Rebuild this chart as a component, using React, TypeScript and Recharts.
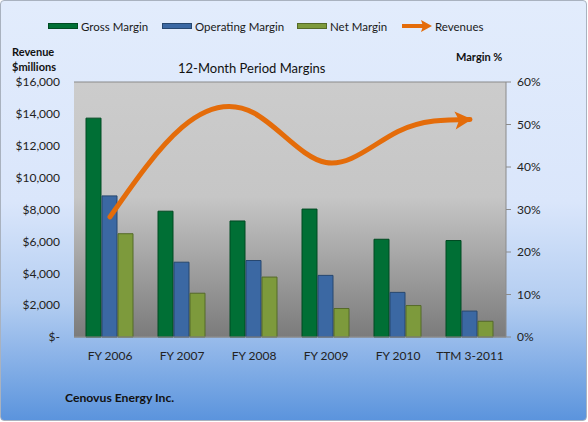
import React from "react";
import { ComposedChart, Bar, Line, XAxis, YAxis, CartesianGrid } from "recharts";

const periods = ["FY 2006", "FY 2007", "FY 2008", "FY 2009", "FY 2010", "TTM 3-2011"];
const grossMargin = [0.515, 0.296, 0.273, 0.301, 0.23, 0.227];
const operatingMargin = [0.332, 0.176, 0.18, 0.145, 0.105, 0.061];
const netMargin = [0.243, 0.103, 0.141, 0.067, 0.074, 0.037];
const revenues = [7540, 13150, 14050, 10950, 12900, 13650];

const revenueTicks = [0, 2000, 4000, 6000, 8000, 10000, 12000, 14000, 16000];
const marginTicks = [0, 0.1, 0.2, 0.3, 0.4, 0.5, 0.6];

const data = periods.map((p, i) => ({
  period: p,
  gross: grossMargin[i],
  operating: operatingMargin[i],
  net: netMargin[i],
  revenue: revenues[i],
}));

const FONT = "Lato, 'Open Sans', sans-serif";
const ORANGE = "#e46c0a";

const fmtRevenue = (v: number) => (v === 0 ? "$-" : "$" + v.toLocaleString("en-US"));
const fmtPct = (v: number) => Math.round(v * 100) + "%";

const legendItems = [
  { label: "Gross Margin", color: "#006f35", stroke: "#004a22", x: 47 },
  { label: "Operating Margin", color: "#3b68a3", stroke: "#27476f", x: 161 },
  { label: "Net Margin", color: "#7d9a3c", stroke: "#556a28", x: 296 },
];

function LegendBox() {
  return (
    <div style={{ position: "absolute", left: 0, top: 17, fontFamily: FONT, fontSize: 11.5, color: "#1a1a1a" }}>
      {legendItems.map((it) => (
        <div key={it.label} style={{ position: "absolute", left: it.x, top: 0, display: "flex", alignItems: "center", whiteSpace: "nowrap", height: 16 }}>
          <div style={{ width: 28, height: 4, background: it.color, border: `1px solid ${it.stroke}`, marginRight: 3 }} />
          <span>{it.label}</span>
        </div>
      ))}
      <div style={{ position: "absolute", left: 401, top: 0, display: "flex", alignItems: "center", whiteSpace: "nowrap", height: 16 }}>
        <svg width={31} height={12} style={{ marginRight: 2 }}>
          <line x1={0} y1={6} x2={22} y2={6} stroke={ORANGE} strokeWidth={4} />
          <polygon points="30,6 19,0 21,6 19,12" fill={ORANGE} />
        </svg>
        <span>Revenues</span>
      </div>
    </div>
  );
}

const ArrowDot = (props: any) => {
  const { cx, cy, index } = props;
  if (index !== periods.length - 1) return <g key={index} />;
  return (
    <g key={index} transform={`rotate(-4 ${cx} ${cy})`}>
      <polygon points={`${cx + 2},${cy} ${cx - 15},${cy - 9} ${cx - 11},${cy} ${cx - 15},${cy + 9}`} fill={ORANGE} />
    </g>
  );
};

export default function App() {
  return (
    <div
      style={{
        position: "absolute",
        left: 0,
        top: 0,
        width: 587,
        height: 421,
        boxSizing: "border-box",
        border: "1px solid #a9b2bf",
        borderRadius: 4,
        background: "linear-gradient(180deg, #e2ecfc 0%, #dae6fb 48%, #b3cdf1 72%, #5b94dd 100%)",
        overflow: "hidden",
        fontFamily: FONT,
      }}
    >
      <LegendBox />
      <div style={{ position: "absolute", left: 11, top: 43, fontSize: 11, fontWeight: 700, lineHeight: "15px", color: "#111" }}>
        Revenue
        <br />
        $millions
      </div>
      <div style={{ position: "absolute", left: 455, top: 49, fontSize: 11, fontWeight: 700, color: "#111" }}>Margin %</div>
      <div style={{ position: "absolute", left: 177, top: 59, fontSize: 13, color: "#111" }}>12-Month Period Margins</div>
      <div style={{ position: "absolute", left: 64, top: 389, fontSize: 12.2, fontWeight: 700, color: "#111" }}>Cenovus Energy Inc.</div>
      <div style={{ position: "absolute", left: -1, top: -1 }}>
        <ComposedChart
          width={588}
          height={422}
          data={data}
          margin={{ top: 82, right: 0, bottom: 55, left: 0 }}
          barCategoryGap={12}
          barGap={1}
        >
          <defs>
            <linearGradient id="plotBg" x1="0" y1="0" x2="0" y2="1">
              <stop offset="0%" stopColor="#cccccc" />
              <stop offset="45%" stopColor="#c6c6c6" />
              <stop offset="100%" stopColor="#7b7b7b" />
            </linearGradient>
          </defs>
          <CartesianGrid vertical={false} stroke="#8a8a8a" strokeWidth={1.2} fill="url(#plotBg)" fillOpacity={1} />
          <XAxis
            dataKey="period"
            height={30}
            tickLine={false}
            axisLine={{ stroke: "#8a8a8a" }}
            tick={{ fill: "#222", fontSize: 12, fontFamily: FONT }}
            dy={6}
          />
          <YAxis
            yAxisId="rev"
            orientation="left"
            width={74}
            domain={[0, 16000]}
            ticks={revenueTicks}
            tickFormatter={fmtRevenue}
            axisLine={false}
            tickLine={false}
            tick={{ fill: "#222", fontSize: 12, fontFamily: FONT }}
            tickMargin={8}
          />
          <YAxis
            yAxisId="pct"
            orientation="right"
            width={82}
            domain={[0, 0.6]}
            ticks={marginTicks}
            tickFormatter={fmtPct}
            axisLine={{ stroke: "#8a8a8a" }}
            tickLine={{ stroke: "#8a8a8a" }}
            tickSize={5}
            tick={{ fill: "#222", fontSize: 12, fontFamily: FONT }}
            tickMargin={6}
          />
          <Bar yAxisId="pct" dataKey="gross" name="Gross Margin" fill="#006f35" stroke="#004a22" strokeWidth={1} isAnimationActive={false} />
          <Bar yAxisId="pct" dataKey="operating" name="Operating Margin" fill="#3b68a3" stroke="#27476f" strokeWidth={1} isAnimationActive={false} />
          <Bar yAxisId="pct" dataKey="net" name="Net Margin" fill="#7d9a3c" stroke="#556a28" strokeWidth={1} isAnimationActive={false} />
          <Line
            yAxisId="rev"
            dataKey="revenue"
            name="Revenues"
            type="natural"
            stroke={ORANGE}
            strokeWidth={5}
            strokeLinecap="round"
            dot={ArrowDot}
            activeDot={false}
            isAnimationActive={false}
          />
        </ComposedChart>
      </div>
    </div>
  );
}
